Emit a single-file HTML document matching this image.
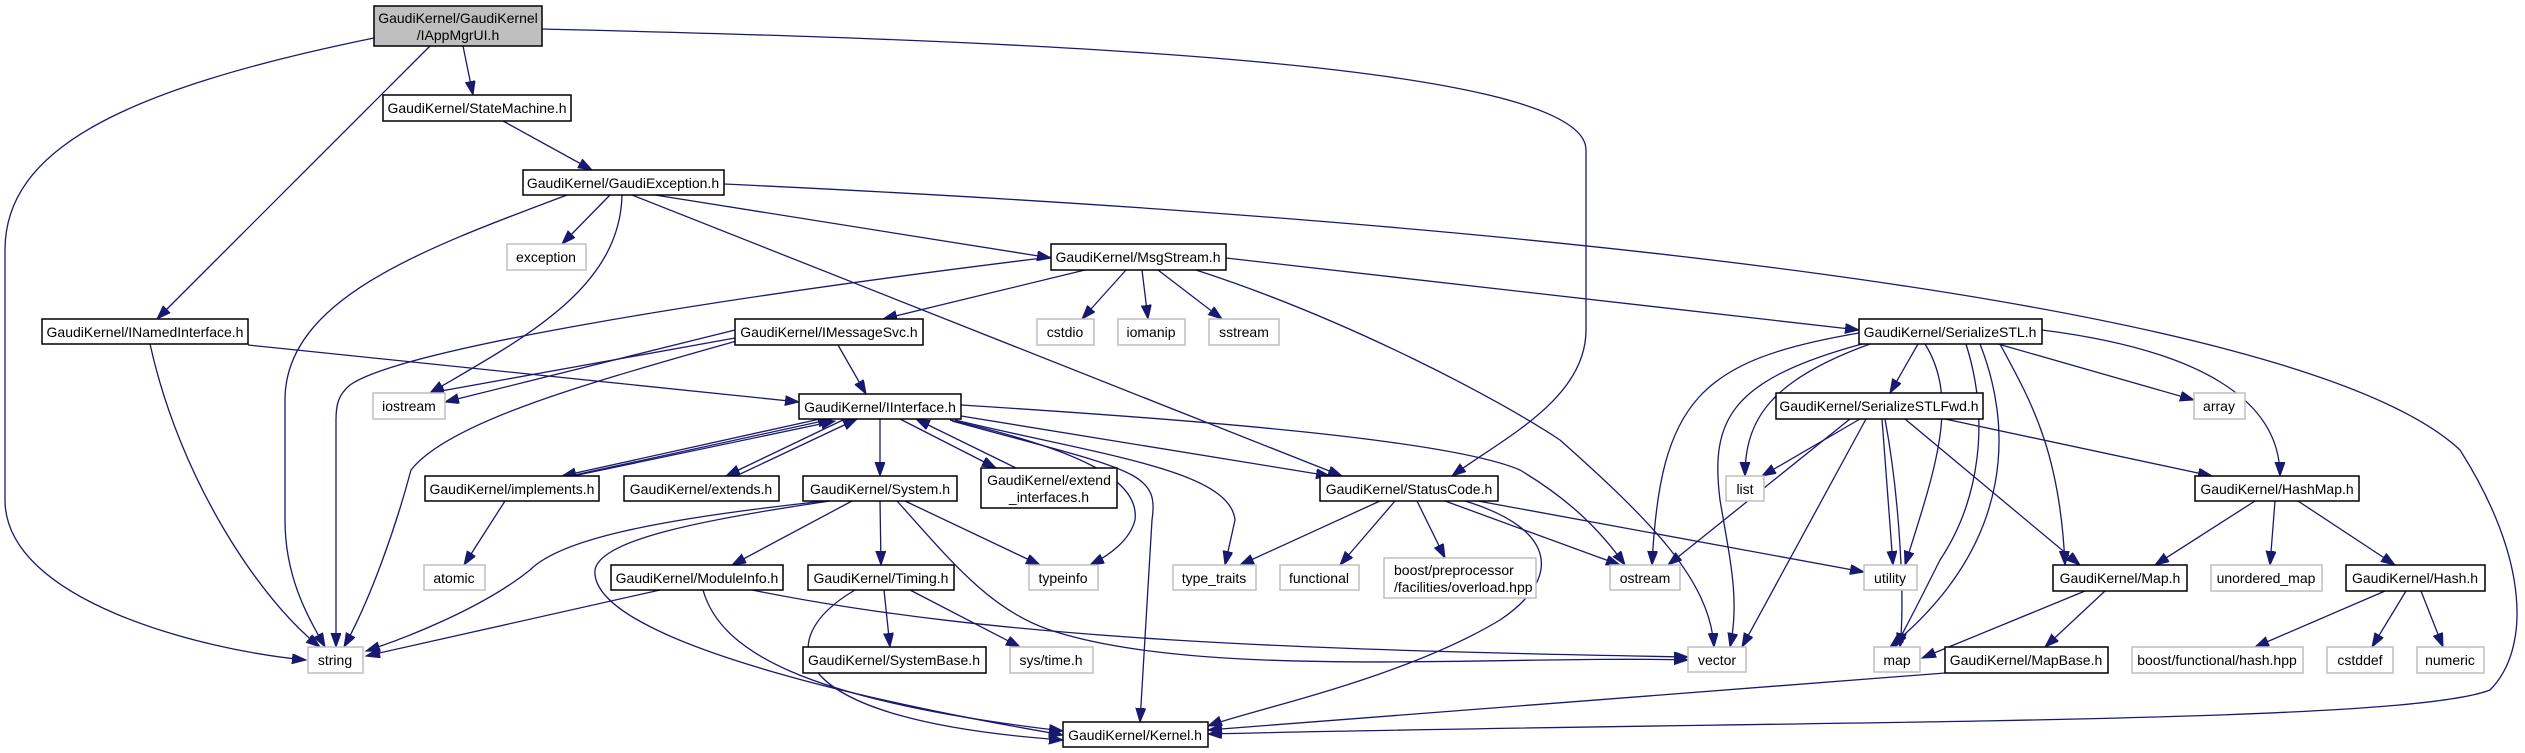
<!DOCTYPE html>
<html><head><meta charset="utf-8"><style>
html,body{margin:0;padding:0;background:#fff;}
svg{display:block;}
text{font-family:"Liberation Sans",sans-serif;font-size:14px;fill:#000;}
.e{fill:none;stroke:#191970;stroke-width:1.3;marker-end:url(#a);}
.n{fill:#fff;stroke:#000;stroke-width:1.5;}
.g{fill:#fff;stroke:#bfbfbf;stroke-width:1.5;}
</style></head><body>
<svg width="2525" height="753" viewBox="0 0 2525 753" xmlns="http://www.w3.org/2000/svg">
<defs><marker id="a" markerUnits="userSpaceOnUse" markerWidth="16" markerHeight="12" refX="14" refY="5" orient="auto"><path d="M0,0 L14,5 L0,10 z" fill="#191970" stroke="#191970"/></marker></defs>

<path class="e" d="M374,38 C120,90 5,150 5,250 L5,500 C5,600 200,650 306,660"/>
<path class="e" d="M430,46 L157,319"/>
<path class="e" d="M463,46 L473,95"/>
<path class="e" d="M542,29 C1000,40 1586,60 1586,150 L1586,330 C1586,400 1500,440 1452,476"/>
<path class="e" d="M503,121 L592,170"/>
<path class="e" d="M610,195 L562,244"/>
<path class="e" d="M622,195 C620,290 520,340 430,393"/>
<path class="e" d="M567,195 C420,250 285,300 285,400 L285,520 C285,580 310,620 325,647"/>
<path class="e" d="M655,195 L1051,258"/>
<path class="e" d="M632,195 L1342,476"/>
<path class="e" d="M724,184 C1500,220 2300,300 2460,450 C2530,560 2530,650 2490,690 C2400,725 1800,720 1208,734"/>
<path class="e" d="M1085,270 L883,319"/>
<path class="e" d="M1126,270 L1082,319"/>
<path class="e" d="M1142,270 L1148,319"/>
<path class="e" d="M1158,270 L1222,319"/>
<path class="e" d="M1051,257 C700,300 400,350 350,385 C338,395 336,405 336,420 L336,647"/>
<path class="e" d="M1196,270 C1350,320 1500,400 1560,440 C1650,520 1710,580 1714,647"/>
<path class="e" d="M1226,258 L1859,330"/>
<path class="e" d="M150,344 C180,480 260,600 320,647"/>
<path class="e" d="M248,345 L799,402"/>
<path class="e" d="M735,330 L445,402"/>
<path class="e" d="M735,338 L430,393"/>
<path class="e" d="M838,345 L866,394"/>
<path class="e" d="M740,340 C600,380 450,420 411,470 C395,530 370,600 344,647"/>
<path class="e" d="M820,419 L562,476"/>
<path class="e" d="M570,476 L832,419"/>
<path class="e" d="M573,476 L835,421"/>
<path class="e" d="M845,419 L726,476"/>
<path class="e" d="M736,476 L857,419"/>
<path class="e" d="M505,501 L464,565"/>
<path class="e" d="M880,419 L880,476"/>
<path class="e" d="M900,419 L996,468"/>
<path class="e" d="M1016,468 L916,419"/>
<path class="e" d="M955,415 L1330,476"/>
<path class="e" d="M961,405 C1200,420 1450,440 1520,470 C1570,500 1600,530 1625,565"/>
<path class="e" d="M950,420 C1080,450 1140,480 1135,520 C1130,540 1110,555 1090,565"/>
<path class="e" d="M955,420 C1100,455 1230,470 1235,520 L1225,565"/>
<path class="e" d="M952,421 C1130,470 1160,470 1152,520 L1140,722"/>
<path class="e" d="M852,501 L732,565"/>
<path class="e" d="M880,501 L881,565"/>
<path class="e" d="M905,501 L1040,565"/>
<path class="e" d="M825,501 C650,520 560,540 530,570 C480,610 400,640 366,651"/>
<path class="e" d="M830,501 C700,520 600,540 595,570 C590,630 800,690 1063,735"/>
<path class="e" d="M897,501 C950,560 990,610 1050,630 C1200,680 1500,655 1688,660"/>
<path class="e" d="M660,590 L366,656"/>
<path class="e" d="M703,590 C720,650 800,700 1063,731"/>
<path class="e" d="M752,590 C1000,640 1300,650 1688,657"/>
<path class="e" d="M884,590 L890,647"/>
<path class="e" d="M910,590 L1020,647"/>
<path class="e" d="M855,590 C770,640 780,720 1063,740"/>
<path class="e" d="M1380,501 L1240,565"/>
<path class="e" d="M1395,501 L1340,565"/>
<path class="e" d="M1417,501 L1445,558"/>
<path class="e" d="M1445,501 L1620,565"/>
<path class="e" d="M1478,501 L1864,572"/>
<path class="e" d="M1465,501 C1560,530 1560,580 1500,620 C1400,680 1250,710 1208,726"/>
<path class="e" d="M1918,344 L1890,393"/>
<path class="e" d="M1998,344 L2194,400"/>
<path class="e" d="M2042,330 C2200,350 2280,400 2280,476"/>
<path class="e" d="M1859,333 C1700,360 1660,400 1652,565"/>
<path class="e" d="M1870,344 C1770,380 1745,420 1745,476"/>
<path class="e" d="M1862,344 C1730,380 1710,420 1720,500 C1730,560 1740,600 1730,647"/>
<path class="e" d="M1966,344 C1990,420 1980,500 1940,560 C1920,600 1905,630 1895,647"/>
<path class="e" d="M1980,344 C2010,420 2020,540 1890,647"/>
<path class="e" d="M2000,344 C2030,400 2060,450 2065,565"/>
<path class="e" d="M1925,344 C1960,400 1935,470 1905,565"/>
<path class="e" d="M1860,419 L1762,476"/>
<path class="e" d="M1850,419 L1668,565"/>
<path class="e" d="M1882,419 L1893,565"/>
<path class="e" d="M1866,419 L1742,647"/>
<path class="e" d="M1885,419 C1900,500 1905,600 1900,647"/>
<path class="e" d="M1905,419 L2080,565"/>
<path class="e" d="M1945,419 L2212,476"/>
<path class="e" d="M2255,501 L2155,565"/>
<path class="e" d="M2275,501 L2270,565"/>
<path class="e" d="M2298,501 L2395,565"/>
<path class="e" d="M2085,591 L1922,658"/>
<path class="e" d="M2105,591 L2045,647"/>
<path class="e" d="M1945,673 L1208,730"/>
<path class="e" d="M2385,591 L2255,647"/>
<path class="e" d="M2406,591 L2372,647"/>
<path class="e" d="M2421,591 L2443,647"/>

<rect x="374" y="6" width="168" height="40" fill="#bfbfbf" stroke="#000" stroke-width="1.5"/>
<text x="458" y="23" text-anchor="middle">GaudiKernel/GaudiKernel</text>
<text x="458" y="40" text-anchor="middle">/IAppMgrUI.h</text>

<rect class="n" x="383" y="95" width="188" height="26"/><text x="477" y="113" text-anchor="middle">GaudiKernel/StateMachine.h</text>
<rect class="n" x="523" y="170" width="201" height="25"/><text x="623" y="188" text-anchor="middle">GaudiKernel/GaudiException.h</text>
<rect class="g" x="507" y="244" width="79" height="26"/><text x="546" y="262" text-anchor="middle">exception</text>
<rect class="n" x="1051" y="244" width="175" height="26"/><text x="1138" y="262" text-anchor="middle">GaudiKernel/MsgStream.h</text>
<rect class="n" x="42" y="319" width="206" height="25"/><text x="145" y="337" text-anchor="middle">GaudiKernel/INamedInterface.h</text>
<rect class="n" x="735" y="319" width="188" height="26"/><text x="829" y="337" text-anchor="middle">GaudiKernel/IMessageSvc.h</text>
<rect class="g" x="1037" y="319" width="57" height="26"/><text x="1065" y="337" text-anchor="middle">cstdio</text>
<rect class="g" x="1118" y="319" width="67" height="26"/><text x="1151" y="337" text-anchor="middle">iomanip</text>
<rect class="g" x="1209" y="319" width="70" height="26"/><text x="1244" y="337" text-anchor="middle">sstream</text>
<rect class="n" x="1859" y="319" width="183" height="25"/><text x="1950" y="337" text-anchor="middle">GaudiKernel/SerializeSTL.h</text>
<rect class="g" x="373" y="393" width="72" height="26"/><text x="409" y="411" text-anchor="middle">iostream</text>
<rect class="n" x="799" y="394" width="162" height="25"/><text x="880" y="412" text-anchor="middle">GaudiKernel/IInterface.h</text>
<rect class="n" x="1776" y="393" width="207" height="26"/><text x="1879" y="411" text-anchor="middle">GaudiKernel/SerializeSTLFwd.h</text>
<rect class="g" x="2194" y="393" width="51" height="26"/><text x="2219" y="411" text-anchor="middle">array</text>
<rect class="n" x="425" y="476" width="174" height="25"/><text x="512" y="494" text-anchor="middle">GaudiKernel/implements.h</text>
<rect class="n" x="624" y="476" width="155" height="25"/><text x="701" y="494" text-anchor="middle">GaudiKernel/extends.h</text>
<rect class="n" x="803" y="476" width="154" height="25"/><text x="880" y="494" text-anchor="middle">GaudiKernel/System.h</text>
<rect class="n" x="981" y="468" width="136" height="40"/>
<text x="1049" y="485" text-anchor="middle">GaudiKernel/extend</text>
<text x="1049" y="502" text-anchor="middle">_interfaces.h</text>
<rect class="n" x="1320" y="476" width="178" height="25"/><text x="1409" y="494" text-anchor="middle">GaudiKernel/StatusCode.h</text>
<rect class="g" x="1726" y="476" width="38" height="25"/><text x="1745" y="494" text-anchor="middle">list</text>
<rect class="n" x="2195" y="476" width="164" height="25"/><text x="2277" y="494" text-anchor="middle">GaudiKernel/HashMap.h</text>
<rect class="g" x="424" y="565" width="61" height="25"/><text x="454" y="583" text-anchor="middle">atomic</text>
<rect class="n" x="611" y="565" width="172" height="25"/><text x="697" y="583" text-anchor="middle">GaudiKernel/ModuleInfo.h</text>
<rect class="n" x="808" y="565" width="146" height="25"/><text x="881" y="583" text-anchor="middle">GaudiKernel/Timing.h</text>
<rect class="g" x="1029" y="565" width="69" height="25"/><text x="1063" y="583" text-anchor="middle">typeinfo</text>
<rect class="g" x="1173" y="565" width="83" height="25"/><text x="1214" y="583" text-anchor="middle">type_traits</text>
<rect class="g" x="1280" y="565" width="79" height="25"/><text x="1319" y="583" text-anchor="middle">functional</text>
<rect class="g" x="1384" y="558" width="152" height="40"/>
<text x="1394" y="575">boost/preprocessor</text>
<text x="1394" y="592">/facilities/overload.hpp</text>
<rect class="g" x="1610" y="565" width="70" height="25"/><text x="1645" y="583" text-anchor="middle">ostream</text>
<rect class="g" x="1864" y="565" width="53" height="25"/><text x="1890" y="583" text-anchor="middle">utility</text>
<rect class="n" x="2053" y="565" width="134" height="26"/><text x="2120" y="583" text-anchor="middle">GaudiKernel/Map.h</text>
<rect class="g" x="2211" y="565" width="111" height="26"/><text x="2266" y="583" text-anchor="middle">unordered_map</text>
<rect class="n" x="2346" y="565" width="139" height="26"/><text x="2415" y="583" text-anchor="middle">GaudiKernel/Hash.h</text>
<rect class="g" x="308" y="647" width="55" height="26"/><text x="335" y="665" text-anchor="middle">string</text>
<rect class="n" x="803" y="647" width="183" height="26"/><text x="894" y="665" text-anchor="middle">GaudiKernel/SystemBase.h</text>
<rect class="g" x="1010" y="647" width="83" height="26"/><text x="1051" y="665" text-anchor="middle">sys/time.h</text>
<rect class="g" x="1688" y="647" width="58" height="25"/><text x="1717" y="665" text-anchor="middle">vector</text>
<rect class="g" x="1874" y="647" width="46" height="25"/><text x="1897" y="665" text-anchor="middle">map</text>
<rect class="n" x="1945" y="647" width="163" height="26"/><text x="2026" y="665" text-anchor="middle">GaudiKernel/MapBase.h</text>
<rect class="g" x="2132" y="647" width="171" height="26"/><text x="2217" y="665" text-anchor="middle">boost/functional/hash.hpp</text>
<rect class="g" x="2327" y="647" width="66" height="26"/><text x="2360" y="665" text-anchor="middle">cstddef</text>
<rect class="g" x="2417" y="647" width="67" height="26"/><text x="2450" y="665" text-anchor="middle">numeric</text>
<rect class="n" x="1063" y="722" width="145" height="25"/><text x="1135" y="740" text-anchor="middle">GaudiKernel/Kernel.h</text>
</svg>
</body></html>
